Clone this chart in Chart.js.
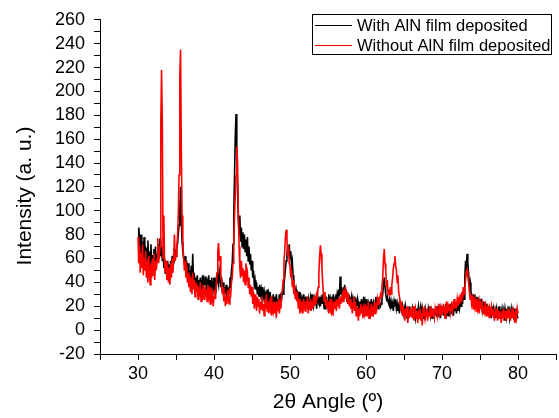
<!DOCTYPE html>
<html>
<head>
<meta charset="utf-8">
<script src="https://cdn.jsdelivr.net/npm/chart.js@4.4.0/dist/chart.umd.min.js"></script>
<style>
  html, body { margin: 0; padding: 0; background: #fff; }
  #wrap { width: 559px; height: 418px; }
</style>
</head>
<body>
<div id="wrap"><canvas id="xrd" width="559" height="418"></canvas></div>
<script>
"use strict";

// 2theta angles (deg)
var angles = [
  30.0,30.1,30.2,30.3,30.4,30.5,30.6,30.7,30.8,30.9,
  31.0,31.1,31.2,31.3,31.4,31.5,31.6,31.7,31.8,31.9,
  32.0,32.1,32.2,32.3,32.4,32.5,32.6,32.7,32.8,32.9,
  33.0,33.1,33.2,33.3,33.4,33.5,33.6,33.7,33.8,33.9,
  34.0,34.1,34.2,34.3,34.4,34.5,34.6,34.7,34.8,34.9,
  35.0,35.1,35.2,35.3,35.4,35.5,35.6,35.7,35.8,35.9,
  36.0,36.1,36.2,36.3,36.4,36.5,36.6,36.7,36.8,36.9,
  37.0,37.1,37.2,37.3,37.4,37.5,37.6,37.7,37.8,37.9,
  38.0,38.1,38.2,38.3,38.4,38.5,38.6,38.7,38.8,38.9,
  39.0,39.1,39.2,39.3,39.4,39.5,39.6,39.7,39.8,39.9,
  40.0,40.1,40.2,40.3,40.4,40.5,40.6,40.7,40.8,40.9,
  41.0,41.1,41.2,41.3,41.4,41.5,41.6,41.7,41.8,41.9,
  42.0,42.1,42.2,42.3,42.4,42.5,42.6,42.7,42.8,42.9,
  43.0,43.1,43.2,43.3,43.4,43.5,43.6,43.7,43.8,43.9,
  44.0,44.1,44.2,44.3,44.4,44.5,44.6,44.7,44.8,44.9,
  45.0,45.1,45.2,45.3,45.4,45.5,45.6,45.7,45.8,45.9,
  46.0,46.1,46.2,46.3,46.4,46.5,46.6,46.7,46.8,46.9,
  47.0,47.1,47.2,47.3,47.4,47.5,47.6,47.7,47.8,47.9,
  48.0,48.1,48.2,48.3,48.4,48.5,48.6,48.7,48.8,48.9,
  49.0,49.1,49.2,49.3,49.4,49.5,49.6,49.7,49.8,49.9,
  50.0,50.1,50.2,50.3,50.4,50.5,50.6,50.7,50.8,50.9,
  51.0,51.1,51.2,51.3,51.4,51.5,51.6,51.7,51.8,51.9,
  52.0,52.1,52.2,52.3,52.4,52.5,52.6,52.7,52.8,52.9,
  53.0,53.1,53.2,53.3,53.4,53.5,53.6,53.7,53.8,53.9,
  54.0,54.1,54.2,54.3,54.4,54.5,54.6,54.7,54.8,54.9,
  55.0,55.1,55.2,55.3,55.4,55.5,55.6,55.7,55.8,55.9,
  56.0,56.1,56.2,56.3,56.4,56.5,56.6,56.7,56.8,56.9,
  57.0,57.1,57.2,57.3,57.4,57.5,57.6,57.7,57.8,57.9,
  58.0,58.1,58.2,58.3,58.4,58.5,58.6,58.7,58.8,58.9,
  59.0,59.1,59.2,59.3,59.4,59.5,59.6,59.7,59.8,59.9,
  60.0,60.1,60.2,60.3,60.4,60.5,60.6,60.7,60.8,60.9,
  61.0,61.1,61.2,61.3,61.4,61.5,61.6,61.7,61.8,61.9,
  62.0,62.1,62.2,62.3,62.4,62.5,62.6,62.7,62.8,62.9,
  63.0,63.1,63.2,63.3,63.4,63.5,63.6,63.7,63.8,63.9,
  64.0,64.1,64.2,64.3,64.4,64.5,64.6,64.7,64.8,64.9,
  65.0,65.1,65.2,65.3,65.4,65.5,65.6,65.7,65.8,65.9,
  66.0,66.1,66.2,66.3,66.4,66.5,66.6,66.7,66.8,66.9,
  67.0,67.1,67.2,67.3,67.4,67.5,67.6,67.7,67.8,67.9,
  68.0,68.1,68.2,68.3,68.4,68.5,68.6,68.7,68.8,68.9,
  69.0,69.1,69.2,69.3,69.4,69.5,69.6,69.7,69.8,69.9,
  70.0,70.1,70.2,70.3,70.4,70.5,70.6,70.7,70.8,70.9,
  71.0,71.1,71.2,71.3,71.4,71.5,71.6,71.7,71.8,71.9,
  72.0,72.1,72.2,72.3,72.4,72.5,72.6,72.7,72.8,72.9,
  73.0,73.1,73.2,73.3,73.4,73.5,73.6,73.7,73.8,73.9,
  74.0,74.1,74.2,74.3,74.4,74.5,74.6,74.7,74.8,74.9,
  75.0,75.1,75.2,75.3,75.4,75.5,75.6,75.7,75.8,75.9,
  76.0,76.1,76.2,76.3,76.4,76.5,76.6,76.7,76.8,76.9,
  77.0,77.1,77.2,77.3,77.4,77.5,77.6,77.7,77.8,77.9,
  78.0,78.1,78.2,78.3,78.4,78.5,78.6,78.7,78.8,78.9,
  79.0,79.1,79.2,79.3,79.4,79.5,79.6,79.7,79.8,79.9,
  80.0
];

// intensity, with AlN film deposited (black)
var withFilm = [
  72,86,78,64,80,57,74,60,78,55,
  70,52,68,75,56,66,50,72,58,63,
  48,68,55,70,52,64,58,72,60,77,
  62,70,58,66,52,60,47,56,50,58,
  46,55,50,58,52,62,56,64,60,68,
  62,70,72,80,88,100,120,94,74,66,
  60,56,62,52,58,48,56,44,50,42,
  54,40,64,42,48,36,44,38,46,34,
  42,36,44,30,40,46,34,42,38,45,
  32,40,36,46,30,42,34,44,28,38,
  44,30,40,36,48,42,38,50,46,36,
  44,32,40,28,36,30,38,26,34,32,
  36,44,40,50,56,72,96,130,162,181,
  150,118,92,80,96,74,86,70,82,68,
  80,66,76,62,78,58,70,55,64,50,
  58,44,50,38,42,34,40,30,36,28,
  38,30,34,26,36,28,32,24,30,27,
  34,22,30,26,32,20,28,24,30,22,
  28,20,30,24,26,18,30,22,28,26,
  32,30,38,44,52,58,64,70,62,72,
  60,66,54,58,46,40,36,30,34,28,
  30,24,32,26,28,20,26,22,30,24,
  26,20,28,22,26,18,24,28,22,30,
  24,20,26,22,28,18,30,24,22,28,
  20,26,22,30,24,18,26,22,28,20,
  24,30,22,26,20,28,24,30,22,26,
  28,24,30,26,34,28,45,30,36,28,
  32,26,38,28,34,24,30,22,28,26,
  24,28,20,26,22,28,18,24,20,26,
  22,16,24,18,26,20,22,28,18,24,
  20,26,18,22,16,24,20,26,18,22,
  24,18,22,28,20,24,18,26,22,20,
  22,26,30,38,44,36,30,26,28,24,
  22,26,20,24,18,22,16,24,20,26,
  18,22,16,20,14,22,18,16,20,14,
  18,12,20,16,10,18,14,20,12,16,
  14,18,12,20,14,10,18,12,16,20,
  12,16,20,14,18,10,16,12,18,14,
  16,12,18,14,20,12,16,10,18,14,
  12,16,14,20,12,18,14,16,10,18,
  14,20,12,18,16,22,14,18,12,20,
  16,22,14,20,18,12,20,16,22,14,
  20,16,22,18,24,20,28,22,30,26,
  44,58,50,64,56,48,36,40,32,30,
  28,24,30,22,26,20,28,18,24,20,
  26,18,22,16,20,24,14,20,16,22,
  14,20,12,18,16,10,20,14,18,12,
  16,10,18,14,12,20,10,16,14,18,
  12,16,8,18,14,10,16,12,20,10,
  14,18,10,16,12,18,8,14,16,12,
  10
];

// intensity, without AlN film deposited (red)
var withoutFilm = [
  78,56,70,48,64,52,72,46,60,50,
  66,44,58,40,62,48,38,56,44,60,
  46,64,42,58,50,60,77,56,62,70,
  172,218,174,60,96,56,48,58,42,54,
  40,52,38,56,44,60,48,62,80,58,
  62,70,78,96,130,212,235,150,96,70,
  62,50,58,44,54,40,48,36,46,32,
  44,30,48,34,42,28,40,32,38,26,
  36,28,40,24,34,30,38,26,36,28,
  34,24,38,28,32,22,36,26,30,20,
  28,34,26,38,48,66,73,58,62,44,
  42,30,36,24,32,20,28,22,34,26,
  22,32,30,40,44,56,72,96,112,130,
  154,140,100,70,52,44,58,46,52,40,
  50,38,56,44,48,36,44,30,38,28,
  36,22,32,18,30,24,16,28,20,26,
  14,24,18,28,16,22,12,26,18,30,
  16,24,14,22,18,28,12,20,16,24,
  14,22,10,20,16,26,14,22,18,30,
  34,42,56,66,78,84,76,62,70,56,
  54,44,50,36,42,30,38,26,32,24,
  28,18,26,14,22,18,24,14,26,20,
  16,24,18,28,14,22,20,26,16,24,
  18,28,20,26,22,30,28,36,48,62,
  71,64,52,40,30,24,32,20,26,18,
  24,14,22,18,26,12,20,16,24,18,
  22,16,26,20,24,18,28,22,26,30,
  24,34,28,36,26,32,22,30,20,26,
  18,24,14,22,28,16,24,12,20,16,
  8,18,12,22,14,20,10,18,14,22,
  12,20,16,24,10,18,14,22,12,20,
  16,24,14,20,18,26,22,28,24,30,
  28,36,44,60,68,56,50,36,42,30,
  34,28,36,30,38,44,52,56,62,54,
  50,40,46,32,28,22,16,24,12,20,
  14,8,18,12,20,6,16,10,18,12,
  16,10,20,8,14,18,10,16,6,14,
  10,18,8,14,4,16,12,20,10,14,
  18,8,14,12,20,10,16,12,18,14,
  10,18,14,20,12,16,22,14,18,12,
  20,14,22,16,10,18,24,14,20,16,
  22,14,18,24,16,20,26,18,22,20,
  26,20,28,22,30,24,32,26,36,30,
  34,42,48,50,44,40,34,26,30,22,
  26,18,28,20,24,16,26,18,22,14,
  24,20,18,22,14,20,16,24,12,18,
  20,14,18,10,16,20,12,18,14,8,
  16,12,18,8,14,10,16,12,6,14,
  12,18,10,16,8,14,12,18,10,16,
  8,14,18,10,16,12,6,14,10,18,
  14
];

var seriesNames = ["With AlN film deposited", "Without AlN film deposited"];
var seriesColors = ["#000000", "#ff0000"];
var xTitle = "2\u03B8 Angle (\u00BA)";
var yTitle = "Intensity (a. u.)";

var FONT = 'Arial, "Liberation Sans", sans-serif';
Chart.defaults.font.family = FONT;
Chart.defaults.color = "#000";

function toPoints(ys) {
  return angles.map(function(a, i) { return { x: a, y: ys[i] }; });
}

// y title sits a bit below the middle of the axis in the original, so draw it here
var yTitlePlugin = {
  id: "yTitle",
  afterDraw: function(chart) {
    var ctx = chart.ctx;
    ctx.save();
    ctx.translate(25, 196);
    ctx.rotate(-Math.PI / 2);
    ctx.font = "21px " + FONT;
    ctx.fillStyle = "#000";
    ctx.textAlign = "center";
    ctx.textBaseline = "middle";
    ctx.fillText(yTitle, 0, 0);
    ctx.restore();
  }
};

// framed legend in the top right corner
var boxLegendPlugin = {
  id: "boxLegend",
  afterDraw: function(chart) {
    var ctx = chart.ctx;
    ctx.save();
    ctx.strokeStyle = "#000";
    ctx.lineWidth = 1;
    ctx.strokeRect(312.5, 14.5, 239, 40);
    ctx.font = "16.5px " + FONT;
    ctx.textBaseline = "middle";
    ctx.textAlign = "left";
    chart.data.datasets.forEach(function(ds, i) {
      var y = 25 + i * 20;
      ctx.strokeStyle = ds.borderColor;
      ctx.beginPath();
      ctx.moveTo(315, y + 0.5);
      ctx.lineTo(352, y + 0.5);
      ctx.stroke();
      ctx.fillStyle = "#000";
      ctx.fillText(ds.label, 357, y + 1);
    });
    ctx.restore();
  }
};

new Chart(document.getElementById("xrd"), {
  type: "line",
  data: {
    datasets: [{
      label: seriesNames[0],
      data: toPoints(withFilm),
      borderColor: seriesColors[0],
      backgroundColor: seriesColors[0],
      borderWidth: 1.6,
      pointRadius: 0,
      tension: 0,
      fill: false,
      order: 1
    }, {
      label: seriesNames[1],
      data: toPoints(withoutFilm),
      borderColor: seriesColors[1],
      backgroundColor: seriesColors[1],
      borderWidth: 1.6,
      pointRadius: 0,
      tension: 0,
      fill: false,
      order: 0
    }]
  },
  options: {
    responsive: false,
    animation: false,
    layout: { padding: { top: 16, right: 1, left: 0, bottom: 0 } },
    plugins: {
      legend: { display: false },
      tooltip: { enabled: false }
    },
    scales: {
      x: {
        type: "linear",
        min: 25,
        max: 85,
        afterFit: function(scale) { scale.height = 64; },
        border: { display: true, color: "#000", width: 1 },
        grid: { drawOnChartArea: false, drawTicks: true, tickLength: 6, color: "#000" },
        ticks: {
          stepSize: 5,
          autoSkip: false,
          maxRotation: 0,
          padding: 3,
          font: { size: 18 },
          color: "#000",
          callback: function(v) { return v % 10 === 0 ? String(v) : ""; }
        },
        title: {
          display: true,
          text: xTitle,
          font: { size: 21 },
          color: "#000",
          padding: { top: 0, bottom: 3 }
        }
      },
      y: {
        min: -20,
        max: 260,
        afterFit: function(scale) { scale.width = 100; },
        border: { display: true, color: "#000", width: 1 },
        grid: { drawOnChartArea: false, drawTicks: true, tickLength: 6, color: "#000" },
        ticks: {
          stepSize: 10,
          autoSkip: false,
          padding: 9,
          font: { size: 18 },
          color: "#000",
          callback: function(v) { return v % 20 === 0 ? String(v) : ""; }
        }
      }
    }
  },
  plugins: [yTitlePlugin, boxLegendPlugin]
});
</script>
</body>
</html>
